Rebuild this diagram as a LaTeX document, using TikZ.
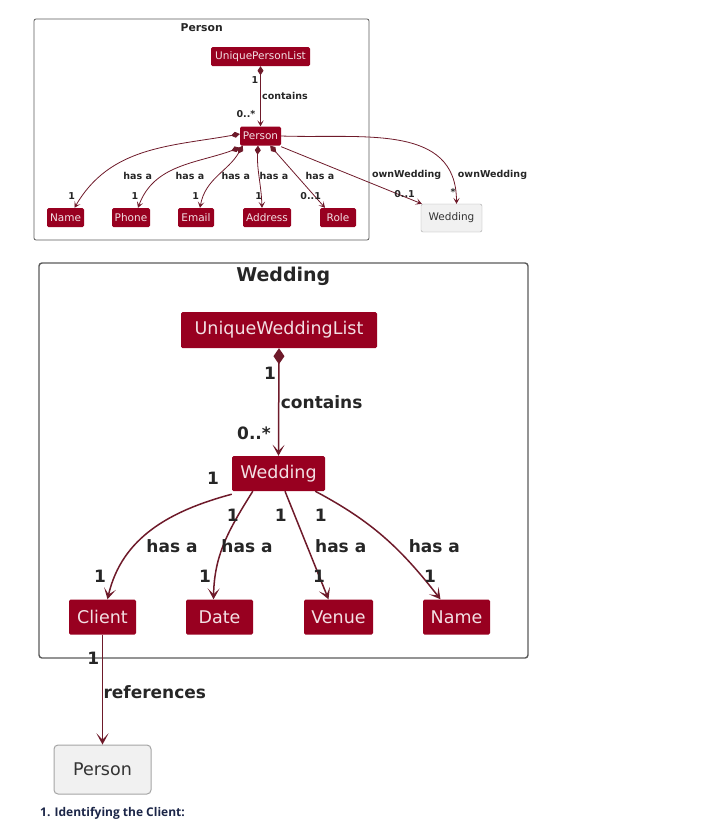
\documentclass[tikz,border=0pt]{standalone}
\usepackage{fontspec}
\setmainfont{DejaVu Sans}
\newfontfamily\notefont{Open Sans}
\usetikzlibrary{arrows.meta}

\definecolor{umlred}{RGB}{152,0,32}
\definecolor{umledge}{RGB}{110,26,42}
\definecolor{pkgline}{RGB}{90,90,90}
\definecolor{plainfill}{RGB}{241,241,241}
\definecolor{plainline}{RGB}{165,165,165}
\definecolor{notecol}{RGB}{28,38,72}

\newcommand{\smallclsfont}{\fontsize{10.5}{12}\selectfont}
\newcommand{\smalllblfont}{\fontsize{9.5}{11}\selectfont\bfseries}
\newcommand{\bigclsfont}{\fontsize{17.5}{20}\selectfont}
\newcommand{\biglblfont}{\fontsize{17}{20}\selectfont\bfseries}

\tikzset{
  cls/.style={fill=umlred, text=white!88!umlred, rounded corners=1.5pt, inner sep=0pt},
  smallcls/.style={cls, minimum height=19pt, font=\smallclsfont},
  bigcls/.style={cls, minimum height=35pt, font=\bigclsfont},
  plaincls/.style={fill=plainfill, draw=plainline, rounded corners=2pt, inner sep=0pt, text=black!80},
  slbl/.style={font=\smalllblfont, inner sep=0pt, text=black!85},
  blbl/.style={font=\biglblfont, inner sep=0pt, text=black!85},
  smalllink/.style={draw=umledge, line width=0.8pt, -{Stealth[length=6pt,width=6.5pt,inset=3pt]}},
  smallcomp/.style={draw=umledge, line width=0.8pt, {Diamond[length=9pt,width=6pt]}-{Stealth[length=6pt,width=6.5pt,inset=3pt]}},
  biglink/.style={draw=umledge, line width=1.5pt, -{Stealth[length=11pt,width=12pt,inset=6pt]}},
  bigcomp/.style={draw=umledge, line width=1.5pt, {Diamond[length=16pt,width=11pt]}-{Stealth[length=11pt,width=12pt,inset=6pt]}}
}

\begin{document}
\begin{tikzpicture}[x=1pt,y=1pt,yscale=-1]
\useasboundingbox (0,0) rectangle (719,839);

% Person package
\draw[pkgline, line width=0.8pt, rounded corners=2pt] (34,19) rectangle (369,240);
\node[font=\fontsize{10.8}{12}\selectfont\bfseries, text=black!85] (ptitle) at (201.7,27.5) {Person};

\node[smallcls, minimum width=99pt] (upl) at (260.5,56.5) {UniquePersonList};
\node[smallcls, minimum width=41pt] (person) at (260.5,136) {Person};
\node[smallcls, minimum width=37pt] (pname) at (65.5,217.5) {Name};
\node[smallcls, minimum width=38pt] (phone) at (131,217.5) {Phone};
\node[smallcls, minimum width=36pt] (email) at (196,217.5) {Email};
\node[smallcls, minimum width=48pt] (address) at (267,217.5) {Address};
\node[smallcls, minimum width=36pt] (role) at (338,217.5) {Role};
\node[plaincls, minimum width=61pt, minimum height=28pt, font=\smallclsfont] (wedsmall) at (451.5,218) {Wedding};

\draw[smallcomp] (upl.south) -- (person.north);
\draw[smallcomp] ([yshift=-2]person.west) to[out=170,in=300] ([xshift=9]pname.north);
\draw[smallcomp] ([yshift=2]person.south west) to[out=160,in=290] ([xshift=7]phone.north);
\draw[smallcomp] ([xshift=3]person.south west) to[out=120,in=280] ([xshift=4]email.north);
\draw[smallcomp] ([xshift=-2.5]person.south) to[out=93,in=268] ([xshift=-5]address.north);
\draw[smallcomp] ([xshift=-11]person.south east) -- ([xshift=-13]role.north);
\draw[smalllink] ([yshift=1]person.south east) -- ([xshift=1]wedsmall.north west);
\draw[smalllink] (person.east) to[out=2,in=270,looseness=1.1] ([xshift=5]wedsmall.north);

\node[slbl] (upl1) at (255,80) {1};
\node[slbl, anchor=west] (pcont) at (262,96) {contains};
\node[slbl] (pmany) at (246,114) {0..*};
\node[slbl] (hname) at (137.7,175.7) {has a};
\node[slbl] (hphone) at (190,175.7) {has a};
\node[slbl] (hemail) at (235.8,175.7) {has a};
\node[slbl] (haddr) at (274,175.7) {has a};
\node[slbl] (hrole) at (320,175.7) {has a};
\node[slbl] (mname) at (71.7,196) {1};
\node[slbl] (mphone) at (135,196) {1};
\node[slbl] (memail) at (195.7,196) {1};
\node[slbl] (maddr) at (258.7,196) {1};
\node[slbl] (mrole) at (310.7,196) {0..1};
\node[slbl] (own1) at (406.7,175) {ownWedding};
\node[slbl] (own2) at (492.5,175) {ownWedding};
\node[slbl] (mown1) at (404.5,194) {0..1};
\node[slbl] (mown2) at (453,192) {*};

% Wedding package
\draw[pkgline, line width=1.4pt, rounded corners=3pt] (39,263) rectangle (528,658);
\node[font=\fontsize{19}{22}\selectfont\bfseries, text=black!85] (wtitle) at (283.3,276) {Wedding};

\node[bigcls, minimum width=196pt, minimum height=36pt] (uwl) at (279,330) {UniqueWeddingList};
\node[bigcls, minimum width=93pt] (wedding) at (278.5,473.5) {Wedding};
\node[bigcls, minimum width=67pt] (client) at (102.5,617) {Client};
\node[bigcls, minimum width=67pt] (date) at (219.5,617) {Date};
\node[bigcls, minimum width=69pt] (venue) at (338.5,617) {Venue};
\node[bigcls, minimum width=67pt] (wname) at (456.5,617) {Name};
\node[plaincls, rounded corners=4pt, line width=1pt, minimum width=97pt, minimum height=49pt, font=\bigclsfont] (pref) at (102.5,769.5) {Person};

\draw[bigcomp] (uwl.south) -- (wedding.north);
\draw[biglink] ([yshift=3]wedding.south west) to[out=165,in=283] ([xshift=5]client.north);
\draw[biglink] ([xshift=21]wedding.south west) to[out=122,in=271] ([xshift=-6]date.north);
\draw[biglink] ([xshift=6.5]wedding.south) -- ([xshift=-10]venue.north);
\draw[biglink] ([xshift=-10]wedding.south east) to[out=28,in=232] ([xshift=-16]wname.north);
\draw[biglink] (client.south) -- (pref.north);

\node[blbl] (uwl1) at (270,373.3) {1};
\node[blbl, anchor=west] (wcont) at (280.7,401.7) {contains};
\node[blbl] (wmany) at (254,433.3) {0..*};
\node[blbl] (sclient) at (213,478) {1};
\node[blbl] (sdate) at (232.7,515) {1};
\node[blbl] (svenue) at (280.7,515) {1};
\node[blbl] (sname) at (320.7,515) {1};
\node[blbl] (hclient) at (172,545.7) {has a};
\node[blbl] (hdate) at (247,545.7) {has a};
\node[blbl] (hvenue) at (340.7,545.7) {has a};
\node[blbl] (hwname) at (434.3,545.7) {has a};
\node[blbl] (tclient) at (100,576.7) {1};
\node[blbl] (tdate) at (205,576.7) {1};
\node[blbl] (tvenue) at (319,576.7) {1};
\node[blbl] (twname) at (430,576.7) {1};
\node[blbl] (cref) at (93.3,658) {1};
\node[blbl, anchor=west] (refs) at (103.3,691.7) {references};

\node[anchor=west, inner sep=0pt, text=notecol, font=\notefont\fontsize{12}{14}\selectfont\bfseries] (note) at (40,813) {1. Identifying the Client:};
\end{tikzpicture}
\end{document}
